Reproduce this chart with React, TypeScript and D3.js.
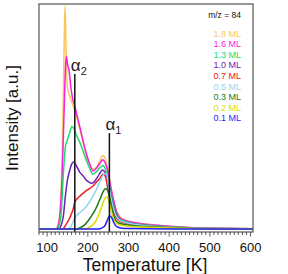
import { useEffect, useRef } from 'react'
import * as d3 from 'd3'

// [temperature K, intensity a.u.]
const ml18: [number, number][] = [[80,0],[120,0],[125,0.01],[130,0.05],[135,0.2],[139,0.5],[142,0.85],[144,1.0],[146,0.85],[150,0.63],[155,0.6],[160,0.57],[168,0.53],[180,0.45],[195,0.34],[205,0.285],[212,0.27],[220,0.275],[228,0.3],[237,0.33],[244,0.31],[250,0.26],[256,0.2],[262,0.14],[270,0.085],[279,0.055],[290,0.042],[311,0.03],[350,0.02],[400,0.012],[450,0.006],[500,0.003],[550,0.002],[606,0.002]]
const ml16: [number, number][] = [[80,0],[122,0],[128,0.02],[133,0.1],[138,0.3],[142,0.55],[145,0.72],[147,0.775],[150,0.74],[154,0.71],[158,0.64],[162,0.59],[168,0.55],[180,0.46],[196,0.34],[205,0.29],[213,0.26],[222,0.275],[230,0.295],[237,0.31],[243,0.295],[249,0.26],[256,0.19],[262,0.14],[270,0.08],[279,0.05],[290,0.04],[311,0.03],[350,0.02],[400,0.012],[450,0.007],[500,0.003],[550,0.002],[606,0.001]]
const ml13: [number, number][] = [[80,0],[124,0],[130,0.02],[135,0.08],[140,0.25],[145,0.37],[150,0.4],[155,0.43],[161,0.46],[166,0.45],[172,0.42],[180,0.39],[196,0.31],[205,0.27],[212,0.245],[220,0.255],[230,0.275],[237,0.285],[243,0.27],[249,0.23],[256,0.17],[262,0.12],[270,0.07],[279,0.045],[290,0.035],[311,0.025],[350,0.017],[400,0.01],[450,0.005],[500,0.002],[606,0.001]]
const ml10: [number, number][] = [[80,0],[128,0],[135,0.02],[140,0.06],[145,0.15],[150,0.22],[155,0.26],[160,0.29],[165,0.3],[170,0.29],[180,0.255],[190,0.235],[196,0.22],[203,0.21],[209,0.205],[215,0.21],[221,0.225],[228,0.245],[236,0.265],[242,0.255],[249,0.22],[256,0.16],[262,0.11],[270,0.065],[279,0.04],[290,0.03],[311,0.022],[350,0.015],[400,0.009],[450,0.005],[500,0.002],[606,0.001]]
const ml07: [number, number][] = [[80,0],[138,0],[143,0.01],[148,0.025],[153,0.04],[158,0.06],[164,0.09],[168,0.12],[176,0.14],[185,0.155],[196,0.172],[205,0.182],[214,0.195],[221,0.21],[229,0.225],[237,0.245],[242,0.24],[246,0.215],[250,0.17],[256,0.12],[262,0.085],[268,0.055],[274,0.04],[285,0.03],[300,0.022],[350,0.014],[400,0.008],[450,0.004],[500,0.002],[606,0.001]]
const ml05: [number, number][] = [[80,0],[150,0],[158,0.01],[163,0.03],[168,0.05],[178,0.07],[188,0.085],[200,0.11],[212,0.145],[222,0.18],[229,0.21],[237,0.24],[243,0.25],[247,0.24],[251,0.2],[256,0.15],[262,0.1],[268,0.065],[275,0.045],[290,0.03],[311,0.022],[350,0.014],[400,0.008],[450,0.004],[500,0.002],[606,0.001]]
const ml03: [number, number][] = [[80,0],[170,0],[180,0.005],[190,0.015],[200,0.035],[213,0.07],[222,0.1],[229,0.13],[237,0.165],[243,0.18],[248,0.175],[252,0.155],[256,0.12],[262,0.07],[268,0.04],[275,0.028],[290,0.02],[311,0.015],[350,0.01],[400,0.006],[450,0.003],[500,0.001],[606,0]]
const ml02: [number, number][] = [[80,0],[190,0],[200,0.005],[210,0.015],[221,0.04],[228,0.07],[234,0.1],[240,0.13],[246,0.145],[250,0.135],[254,0.11],[259,0.07],[264,0.04],[270,0.025],[280,0.018],[300,0.012],[350,0.008],[400,0.005],[450,0.002],[500,0.001],[606,0]]
const ml01: [number, number][] = [[80,0],[225,0],[235,0.005],[242,0.015],[248,0.04],[252,0.055],[255,0.058],[259,0.05],[264,0.028],[270,0.012],[280,0.005],[300,0.002],[400,0],[606,0]]

const labels = ['1.8 ML', '1.6 ML', '1.3 ML', '1.0 ML', '0.7 ML', '0.5 ML', '0.3 ML', '0.2 ML', '0.1 ML']
const colors = ['#fcc55a', '#f81ee0', '#20d870', '#6a22b8', '#f42020', '#8ed6f2', '#157a15', '#dcdc00', '#1e1eff']
const seriesData = [ml18, ml16, ml13, ml10, ml07, ml05, ml03, ml02, ml01]

const xTickLabels = [100, 200, 300, 400, 500, 600]
// desorption states: [subscript, temperature, marker top]
const peaks: [string, number, number][] = [['2', 168, 0.695], ['1', 253, 0.43]]

const font = 'Liberation Sans, Arial, sans-serif'

export default function App() {
  const ref = useRef<SVGSVGElement>(null)

  useEffect(() => {
    if (!ref.current) return
    const svg = d3.select(ref.current)
    svg.selectAll('*').remove()

    const left = 39, right = 253, top = 4, bottom = 232
    const x = d3.scaleLinear().domain([80, 606]).range([left, right])
    const y = d3.scaleLinear().domain([0, 1]).range([229, 6])

    const line = d3.line<[number, number]>()
      .x(d => x(d[0]))
      .y(d => y(d[1]))
      .curve(d3.curveMonotoneX)

    const clipId = 'plot-clip'
    svg.append('clipPath').attr('id', clipId)
      .append('rect')
      .attr('x', left).attr('y', top)
      .attr('width', right - left).attr('height', bottom - top)

    const g = svg.append('g').attr('clip-path', `url(#${clipId})`)
    seriesData.forEach((s, i) => {
      g.append('path')
        .attr('d', line(s))
        .attr('fill', 'none')
        .attr('stroke', colors[i])
        .attr('stroke-width', 1.5)
        .attr('stroke-linejoin', 'round')
    })

    // α markers
    peaks.forEach(([sub, t, v]) => {
      svg.append('line')
        .attr('x1', x(t)).attr('x2', x(t))
        .attr('y1', y(v)).attr('y2', bottom)
        .attr('stroke', '#111')
        .attr('stroke-width', 1.5)
      const txt = svg.append('text')
        .attr('x', x(t) - 4)
        .attr('y', y(v) - 3)
        .attr('font-family', font)
        .attr('font-size', 17)
        .attr('fill', '#222')
      txt.append('tspan').text('α')
      txt.append('tspan')
        .attr('font-size', 11)
        .attr('dy', 4)
        .text(sub)
    })

    // frame
    svg.append('rect')
      .attr('x', left).attr('y', top)
      .attr('width', right - left).attr('height', bottom - top)
      .attr('fill', 'none')
      .attr('stroke', '#555')
      .attr('stroke-width', 1.2)

    // bottom ticks
    const minor = d3.range(80, 601, 10)
    svg.selectAll('.tick')
      .data(minor)
      .enter()
      .append('line')
      .attr('x1', d => x(d)).attr('x2', d => x(d))
      .attr('y1', bottom)
      .attr('y2', d => bottom + (d % 100 === 0 ? 4.5 : 3))
      .attr('stroke', '#333')
      .attr('stroke-width', 0.8)

    svg.selectAll('.tick-label')
      .data(xTickLabels)
      .enter()
      .append('text')
      .attr('x', d => x(d))
      .attr('y', 251.5)
      .attr('text-anchor', 'middle')
      .attr('font-family', font)
      .attr('font-size', 13)
      .attr('fill', '#111')
      .text(d => d)

    svg.append('text')
      .attr('x', 145).attr('y', 270.5)
      .attr('text-anchor', 'middle')
      .attr('font-family', font)
      .attr('font-size', 17.5)
      .attr('fill', '#111')
      .text('Temperature [K]')

    svg.append('text')
      .attr('transform', 'translate(18,118) rotate(-90)')
      .attr('text-anchor', 'middle')
      .attr('font-family', font)
      .attr('font-size', 17)
      .attr('fill', '#111')
      .text('Intensity [a.u.]')

    // legend
    svg.append('text')
      .attr('x', 241).attr('y', 18)
      .attr('text-anchor', 'end')
      .attr('font-family', font)
      .attr('font-size', 8.5)
      .attr('fill', '#111')
      .text('m/z = 84')

    svg.selectAll('.legend')
      .data(labels)
      .enter()
      .append('text')
      .attr('x', 241)
      .attr('y', (_, i) => 36.5 + i * 10.6)
      .attr('text-anchor', 'end')
      .attr('font-family', font)
      .attr('font-size', 9)
      .attr('fill', (_, i) => colors[i])
      .text(d => d)
  }, [])

  return (
    <svg ref={ref} width={288} height={274}
      style={{ position: 'absolute', left: 0, top: 0, background: '#fff' }} />
  )
}
